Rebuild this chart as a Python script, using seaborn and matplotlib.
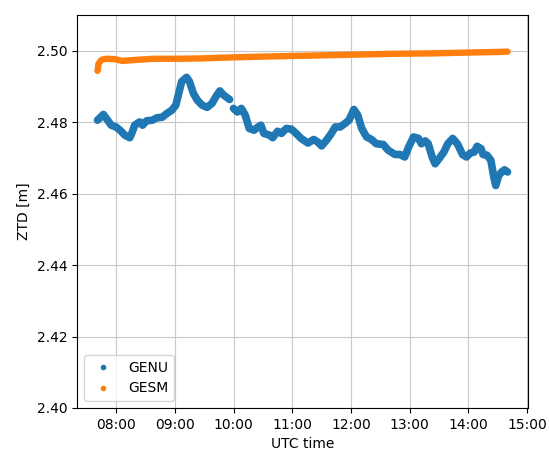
import matplotlib
matplotlib.use("Agg")
import matplotlib.pyplot as plt
import matplotlib.dates as mdates
from matplotlib.lines import Line2D
import pandas as pd
import seaborn as sns

DAY = "2021-06-15 "

# GENU zenith tropospheric delay (gap between 09:56 and 10:00)
genu_time = [
    "07:41", "07:47", "07:50", "07:55", "08:00", "08:04", "08:09", "08:14", "08:16", "08:19",
    "08:24", "08:27", "08:31", "08:37", "08:42", "08:47", "08:52", "08:57", "09:01", "09:04",
    "09:07", "09:12", "09:15", "09:19", "09:23", "09:28", "09:33", "09:38", "09:42", "09:46",
    "09:50", "09:56",
    "10:00", "10:04", "10:08", "10:12", "10:16", "10:21", "10:25", "10:28", "10:31", "10:37",
    "10:40", "10:45", "10:49", "10:54", "10:59", "11:04", "11:09", "11:16", "11:22", "11:26",
    "11:30", "11:35", "11:40", "11:44", "11:49", "11:54", "11:58", "12:03", "12:07", "12:11",
    "12:16", "12:21", "12:26", "12:33", "12:38", "12:45", "12:50", "12:55", "12:59", "13:04",
    "13:09", "13:12", "13:16", "13:19", "13:23", "13:26", "13:30", "13:35", "13:39", "13:44",
    "13:49", "13:54", "13:58", "14:02", "14:06", "14:09", "14:13", "14:15", "14:19", "14:23",
    "14:26", "14:28", "14:31", "14:34", "14:37", "14:40",
]
genu_ztd = [
    2.4806, 2.4822, 2.4811, 2.4792, 2.4787, 2.4778, 2.4764, 2.4757, 2.4769, 2.4792,
    2.4801, 2.4792, 2.4804, 2.4806, 2.4813, 2.4814, 2.4825, 2.4834, 2.4848, 2.4881,
    2.4914, 2.4926, 2.4914, 2.4881, 2.4862, 2.4848, 2.4842, 2.4853, 2.4872, 2.4888,
    2.4876, 2.4864,
    2.4839, 2.4829, 2.4839, 2.4820, 2.4783, 2.4778, 2.4787, 2.4792, 2.4769, 2.4764,
    2.4757, 2.4775, 2.4769, 2.4783, 2.4781, 2.4769, 2.4755, 2.4742, 2.4752, 2.4745,
    2.4734, 2.4750, 2.4769, 2.4787, 2.4787, 2.4797, 2.4806, 2.4836, 2.4820, 2.4783,
    2.4759, 2.4752, 2.4740, 2.4738, 2.4722, 2.4710, 2.4710, 2.4703, 2.4731, 2.4759,
    2.4755, 2.4740, 2.4748, 2.4740, 2.4703, 2.4684, 2.4698, 2.4717, 2.4740, 2.4755,
    2.4739, 2.4710, 2.4703, 2.4714, 2.4717, 2.4733, 2.4726, 2.4710, 2.4708, 2.4694,
    2.4647, 2.4623, 2.4651, 2.4661, 2.4667, 2.4661,
]
# first 32 samples before the data gap, the rest after it
genu_segment = [0] * 32 + [1] * (len(genu_time) - 32)

# GESM
gesm_time = [
    "07:41", "07:42", "07:45", "07:50", "07:59", "08:06", "08:11", "08:21", "08:38", "09:02",
    "09:26", "10:00", "10:28", "11:02", "11:37", "12:11", "12:45", "13:20", "13:54", "14:28",
    "14:40",
]
gesm_ztd = [
    2.4944, 2.4964, 2.4975, 2.4978, 2.4977, 2.4972, 2.4973, 2.4975, 2.4978, 2.4978,
    2.4979, 2.4982, 2.4984, 2.4986, 2.4988, 2.4990, 2.4992, 2.4993, 2.4995, 2.4997,
    2.4998,
]

genu = pd.DataFrame({
    "time": pd.to_datetime([DAY + t for t in genu_time]),
    "ztd": genu_ztd,
    "seg": genu_segment,
})
gesm = pd.DataFrame({
    "time": pd.to_datetime([DAY + t for t in gesm_time]),
    "ztd": gesm_ztd,
    "seg": 0,
})

blue = "#1f77b4"
orange = "#ff7f0e"

fig, ax = plt.subplots(figsize=(5.5, 4.61), dpi=100)
fig.subplots_adjust(left=0.14, right=0.96, top=0.967, bottom=0.115)

# dense 1 Hz-ish samples in the original show up as a thick band
sns.lineplot(data=genu, x="time", y="ztd", units="seg", estimator=None, color=blue,
             lw=5.5, solid_capstyle="round", solid_joinstyle="round", ax=ax, legend=False)
sns.lineplot(data=gesm, x="time", y="ztd", units="seg", estimator=None, color=orange,
             lw=4.6, solid_capstyle="round", solid_joinstyle="round", ax=ax, legend=False)

ax.set_ylim(2.40, 2.51)
ax.set_yticks([2.40, 2.42, 2.44, 2.46, 2.48, 2.50])
ax.xaxis.set_major_locator(mdates.HourLocator())
ax.xaxis.set_major_formatter(mdates.DateFormatter("%H:%M"))
ax.grid(True, color="#c8c8c8")
ax.set_xlabel("UTC time")
ax.set_ylabel("ZTD [m]")

handles = [
    Line2D([], [], marker=".", ls="none", color=blue, label="GENU"),
    Line2D([], [], marker=".", ls="none", color=orange, label="GESM"),
]
ax.legend(handles=handles, loc="lower left")

fig.savefig("out.png", dpi=100)
